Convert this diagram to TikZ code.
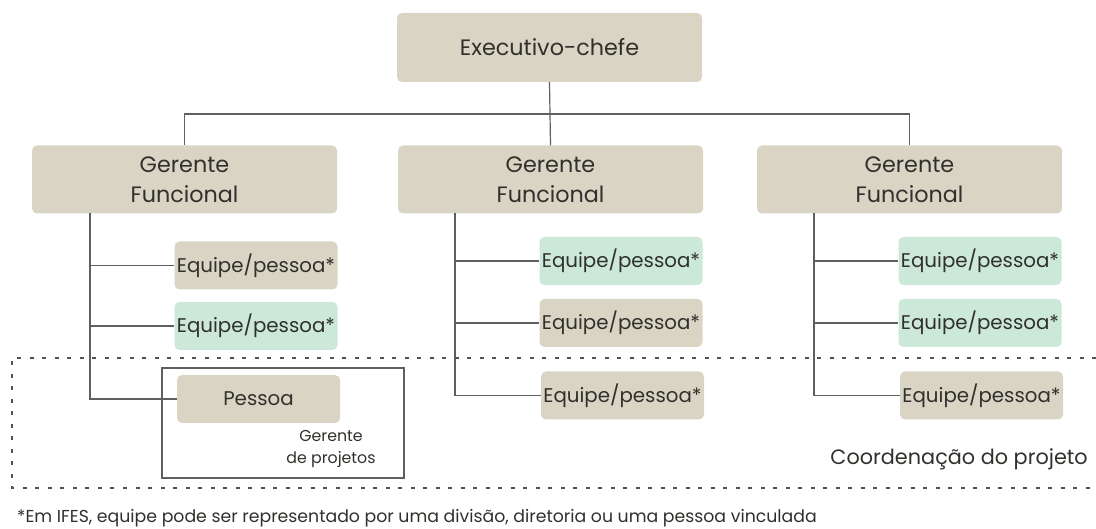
\documentclass[tikz,border=0pt]{standalone}
\usepackage{fontspec}
\setmainfont{Poppins}
\definecolor{tan}{RGB}{217,212,196}
\definecolor{mint}{RGB}{204,232,217}
\definecolor{txt}{RGB}{48,48,44}
\definecolor{ln}{RGB}{95,95,95}
\begin{document}
\begin{tikzpicture}[x=1pt,y=-1pt,
  box/.style={rounded corners=5pt, inner sep=0pt, align=center, text=txt},
  tanbox/.style={box, fill=tan},
  mintbox/.style={box, fill=mint},
  big/.style={minimum width=305pt, minimum height=68pt, font=\fontsize{22.3}{30}\selectfont},
  small/.style={minimum width=163pt, minimum height=48pt, font=\fontsize{19.8}{24}\selectfont},
  conn/.style={draw=ln, line width=1.2pt},
  sep/.style={draw=ln!85!black, line width=1.8pt, dash pattern=on 4pt off 8.5pt},
]
\useasboundingbox (0,0) rectangle (1096,529);

% project manager frame
\node[draw=ln, line width=1.5pt, minimum width=242pt, minimum height=110pt, inner sep=0pt] (pm) at (283,423) {};

% top levels
\node[tanbox, big, minimum height=69pt] (exec) at (549.5,47.5) {Executivo-chefe};
\node[tanbox, big] (gf1) at (184.5,179.5) {Gerente\\Funcional};
\node[tanbox, big] (gf2) at (550.5,179.5) {Gerente\\Funcional};
\node[tanbox, big] (gf3) at (909.5,179.5) {Gerente\\Funcional};

% children
\node[tanbox, small] (e11) at (256,265.5) {Equipe/pessoa*};
\node[mintbox, small] (e12) at (256,326) {Equipe/pessoa*};
\node[tanbox, small] (p1) at (258.5,399) {Pessoa};

\node[mintbox, small] (e21) at (621,261) {Equipe/pessoa*};
\node[tanbox, small] (e22) at (621,323) {Equipe/pessoa*};
\node[tanbox, small] (e23) at (622.5,395.5) {Equipe/pessoa*};

\node[mintbox, small] (e31) at (980,261) {Equipe/pessoa*};
\node[mintbox, small] (e32) at (980,323) {Equipe/pessoa*};
\node[tanbox, small] (e33) at (981.5,395.5) {Equipe/pessoa*};

% labels
\node[align=center, text=txt, font=\fontsize{15.8}{22.5}\selectfont, inner sep=0pt] (gpl) at (331,449) {Gerente\\de projetos};
\node[anchor=east, text=txt, font=\fontsize{20.8}{24}\selectfont, inner sep=0pt] (coord) at (1088,459) {Coordenação do projeto};
\node[anchor=west, text=txt, font=\fontsize{17.3}{20}\selectfont, inner sep=0pt] (foot) at (17,518) {*Em IFES, equipe pode ser representado por uma divisão, diretoria ou uma pessoa vinculada};

% tree connectors
\coordinate (bus) at (550,114);
\draw[conn] (exec.south) -- (bus);
\draw[conn] (gf1.north) |- (bus) -| (gf3.north);
\draw[conn] (bus) -- (gf2.north);

\coordinate (s1) at (90,213);
\coordinate (s2) at (455,213);
\coordinate (s3) at (814,213);
\draw[conn] (s1) |- (e11.west);
\draw[conn] (s1) |- (e12.west);
\draw[conn] (s1) |- (p1.west);
\draw[conn] (s2) |- (e21.west);
\draw[conn] (s2) |- (e22.west);
\draw[conn] (s2) |- (e23.west);
\draw[conn] (s3) |- (e31.west);
\draw[conn] (s3) |- (e32.west);
\draw[conn] (s3) |- (e33.west);

% coordination zone
\coordinate (zt) at (1096,358);
\coordinate (zb) at (1096,488);
\draw[sep] (zt) -- (12,358) -- (12,488) -- (zb);
\end{tikzpicture}
\end{document}
